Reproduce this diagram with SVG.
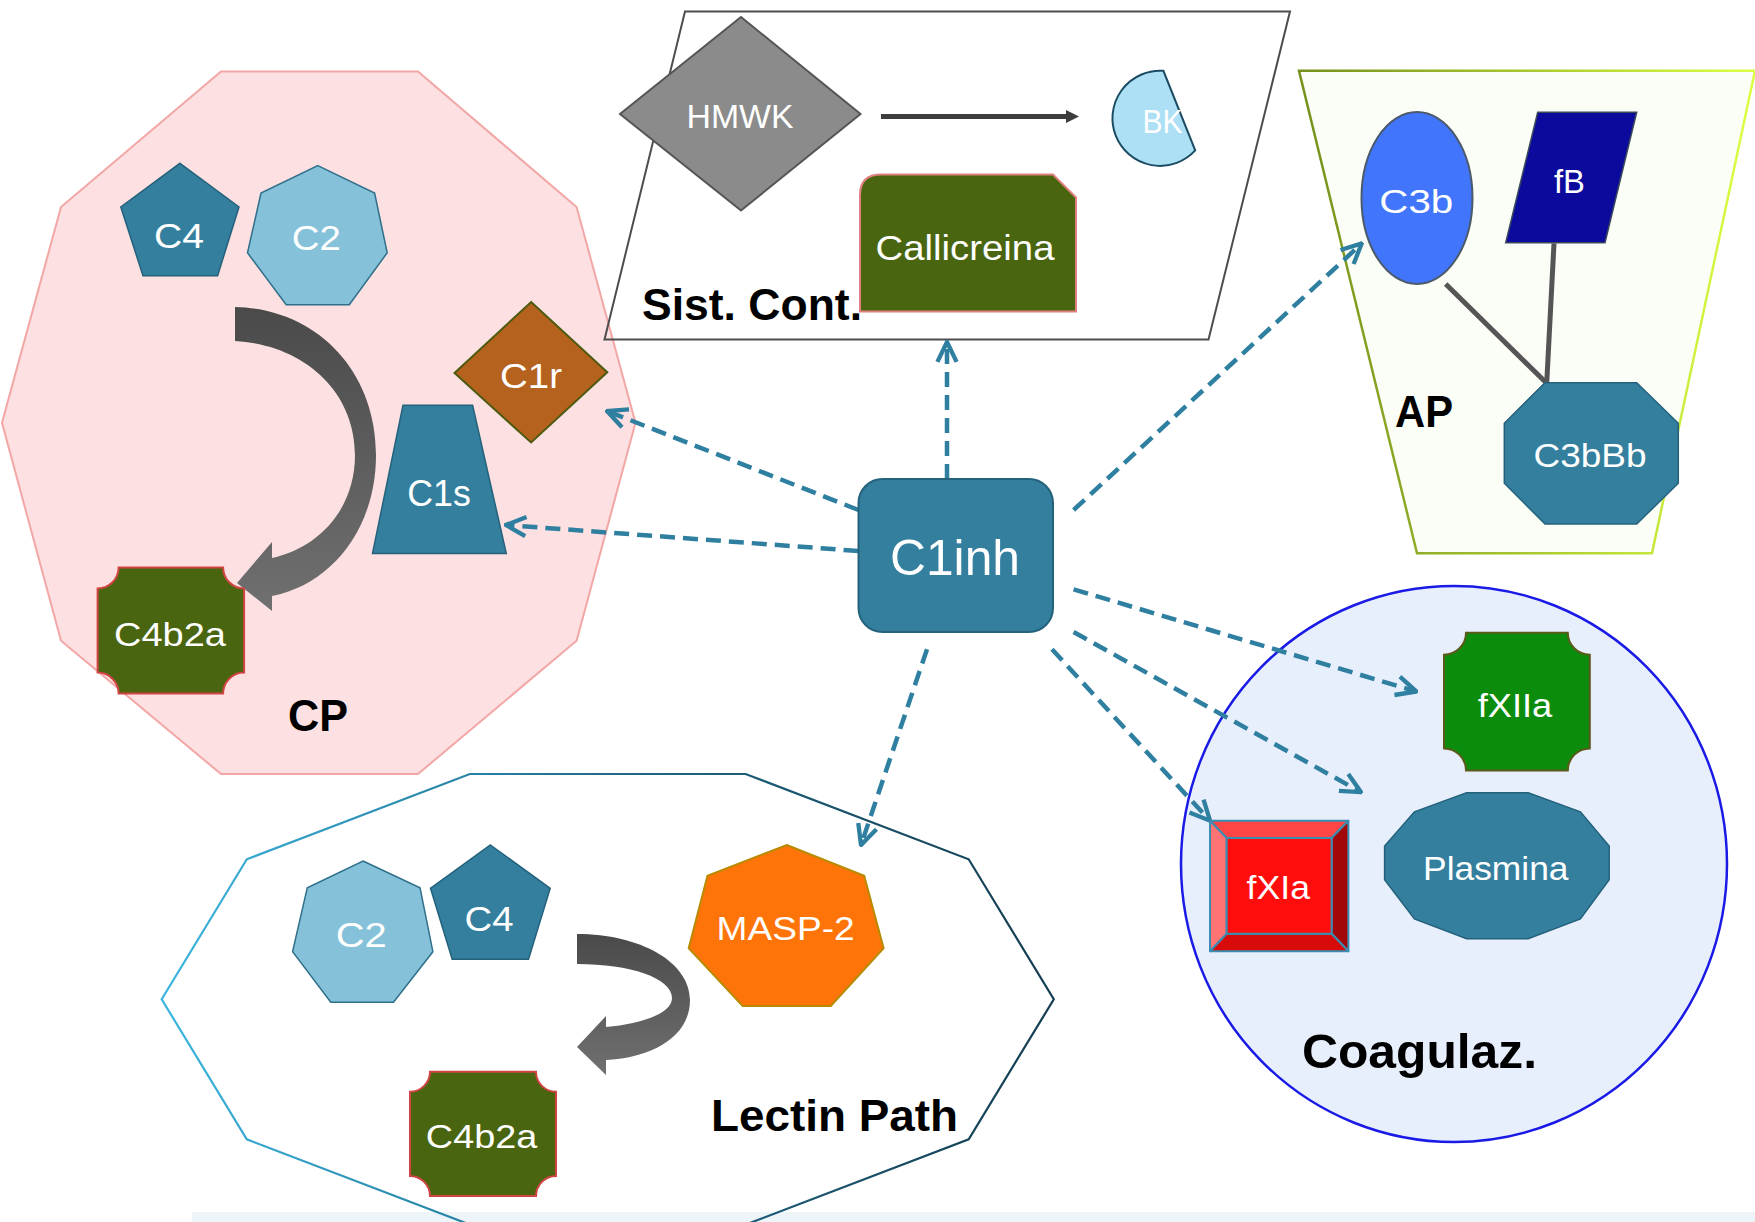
<svg xmlns="http://www.w3.org/2000/svg" width="1755" height="1222" viewBox="0 0 1755 1222">
<defs>
<style>
.lbl{font-family:"Liberation Sans",Arial,sans-serif;fill:#fff;text-anchor:middle;lengthAdjust:spacingAndGlyphs}
.ttl{font-family:"Liberation Sans",Arial,sans-serif;font-weight:bold;fill:#000}
.conn{fill:none;stroke:#2f7fa1;stroke-width:4.5;stroke-dasharray:15 8}
.teal{fill:#347f9e;stroke:#24627c;stroke-width:1.5}
.olive{fill:#4a650f;stroke:#d04444;stroke-width:2}
.link{stroke:#555;stroke-width:5;fill:none}
</style>
<marker id="chev" markerUnits="userSpaceOnUse" markerWidth="24" markerHeight="24" viewBox="0 0 10 10" refX="9.3" refY="5" orient="auto">
<path d="M1,1 L9.3,5 L1,9" fill="none" stroke="#2f7fa1" stroke-width="1.8"/>
</marker>
<linearGradient id="garr" x1="0" y1="0" x2="0" y2="1">
<stop offset="0" stop-color="#4a4a4a"/><stop offset="1" stop-color="#707070"/>
</linearGradient>
<linearGradient id="gap" gradientUnits="userSpaceOnUse" x1="1298" y1="0" x2="1755" y2="0">
<stop offset="0" stop-color="#73901a"/><stop offset="1" stop-color="#dcff44"/>
</linearGradient>
<linearGradient id="glec" gradientUnits="userSpaceOnUse" x1="160" y1="0" x2="1055" y2="0">
<stop offset="0" stop-color="#3cb6e0"/><stop offset="0.5" stop-color="#1f6a88"/><stop offset="1" stop-color="#143c50"/>
</linearGradient>
</defs>

<rect x="0" y="0" width="1755" height="1222" fill="#fff"/>
<rect x="192" y="1212" width="1563" height="10" fill="#edf5f9"/>

<!-- containers -->
<g id="cp-group">
<polygon points="221,71.5 418,71.5 576.6,207 635.5,422.7 576.6,640.8 418,774 221,774 61,640.8 2,422.7 61,207" fill="#fde0e1" stroke="#f2a6a6" stroke-width="2"/>
<text class="ttl" x="288" y="731" font-size="44" textLength="60" lengthAdjust="spacingAndGlyphs">CP</text>
</g>
<g id="sist-cont-group">
<polygon points="685,11.5 1290,11.5 1208.5,339.5 604.5,339.5" fill="none" stroke="#4d4d4d" stroke-width="2"/>
<text class="ttl" x="642" y="320" font-size="45" textLength="220" lengthAdjust="spacingAndGlyphs">Sist. Cont.</text>
</g>
<g id="ap-group">
<polygon points="1299,70.7 1755,70.7 1652,553.3 1417,553.3" fill="#fbfdf7" stroke="url(#gap)" stroke-width="2.5"/>
<text class="ttl" x="1395" y="427" font-size="44" textLength="58" lengthAdjust="spacingAndGlyphs">AP</text>
</g>
<g id="coag-group">
<ellipse cx="1454" cy="864" rx="273" ry="278" fill="#e8effc" stroke="#1a1ae6" stroke-width="2.5"/>
<text class="ttl" x="1302" y="1068" font-size="48" textLength="235" lengthAdjust="spacingAndGlyphs">Coagulaz.</text>
</g>
<g id="lectin-group">
<polygon points="469.8,774 745.6,774 968.7,859.3 1053.8,999.3 968.7,1139.3 745.6,1224.6 469.8,1224.6 246.8,1139.3 161.7,999.3 246.8,859.3" fill="none" stroke="url(#glec)" stroke-width="2.2"/>
<text class="ttl" x="711" y="1131" font-size="45" textLength="247" lengthAdjust="spacingAndGlyphs">Lectin Path</text>
</g>

<!-- connectors -->
<g id="connectors">
<line class="conn" x1="858.5" y1="510" x2="607" y2="411" marker-end="url(#chev)"/>
<line class="conn" x1="858.5" y1="551" x2="506" y2="525" marker-end="url(#chev)"/>
<line class="conn" x1="947" y1="479" x2="947" y2="342" marker-end="url(#chev)"/>
<line class="conn" x1="1073.6" y1="510" x2="1361.7" y2="243.5" marker-end="url(#chev)"/>
<line class="conn" x1="1073.6" y1="589.3" x2="1416.3" y2="691.5" marker-end="url(#chev)"/>
<line class="conn" x1="1073.6" y1="632" x2="1361" y2="792.2" marker-end="url(#chev)"/>
<line class="conn" x1="1052" y1="649.3" x2="1210" y2="820.7" marker-end="url(#chev)"/>
<line class="conn" x1="927" y1="649.3" x2="861" y2="845" marker-end="url(#chev)"/>
<g id="hmwk-bk-arrow">
<line x1="881" y1="116.5" x2="1068" y2="116.5" stroke="#3d3d3d" stroke-width="5"/>
<polygon points="1066,110 1079,116.5 1066,123" fill="#3d3d3d"/>
</g>
<path id="cp-curved-arrow" d="M235,307 C318,309 376,372 376,455 C376,530 330,585 272,596 L272,611 L237,583 L272,542 L272,558 C318,548 355,510 355,455 C355,392 305,345 235,341 Z" fill="url(#garr)"/>
<path id="lectin-curved-arrow" d="M577,934 C640,934 690,962 690,1000 C690,1038 650,1058 606,1060 L606,1075 L577,1047 L606,1016 L606,1027 C640,1024 672,1014 672,998 C672,978 630,964 577,964 Z" fill="url(#garr)"/>
<g id="ap-links">
<line class="link" x1="1445.7" y1="284" x2="1546.7" y2="383.3"/>
<line class="link" x1="1554" y1="243.3" x2="1546.7" y2="383.3"/>
</g>
</g>

<!-- nodes -->
<g id="cp-c4">
<polygon class="teal" points="180,163.3 239,207 217.6,275.8 143,275.8 120.8,207"/>
<text class="lbl" x="179" y="248" font-size="35" textLength="50" lengthAdjust="spacingAndGlyphs">C4</text>
</g>
<g id="cp-c2">
<polygon points="317.8,165.6 374.6,193.1 387.2,252.8 349.3,304.7 286.2,304.7 247.5,252.8 261,193.1" fill="#85c2da" stroke="#2f6f8a" stroke-width="1.5"/>
<text class="lbl" x="316.3" y="250" font-size="35" textLength="49" lengthAdjust="spacingAndGlyphs">C2</text>
</g>
<g id="cp-c1r">
<polygon points="531.1,302 607.3,372.2 531.1,442.5 454.5,373" fill="#b5621f" stroke="#4d5a10" stroke-width="2"/>
<text class="lbl" x="531" y="388" font-size="35" textLength="62" lengthAdjust="spacingAndGlyphs">C1r</text>
</g>
<g id="cp-c1s">
<polygon class="teal" points="403,405.3 472.6,405.3 506.3,553.6 372.5,553.6"/>
<text class="lbl" x="439" y="506" font-size="36" textLength="63.5" lengthAdjust="spacingAndGlyphs">C1s</text>
</g>
<g id="cp-c4b2a">
<path class="olive" d="M118.6,567.4 L223.1,567.4 A21,21 0 0 0 244.1,588.4 L244.1,672.6 A21,21 0 0 0 223.1,693.6 L118.6,693.6 A21,21 0 0 0 97.6,672.6 L97.6,588.4 A21,21 0 0 0 118.6,567.4 Z"/>
<text class="lbl" x="170" y="646" font-size="33" textLength="112" lengthAdjust="spacingAndGlyphs">C4b2a</text>
</g>
<g id="hmwk">
<polygon points="741,17 860.5,114 741,210.5 620,114" fill="#8b8b8b" stroke="#555" stroke-width="2"/>
<text class="lbl" x="740" y="128" font-size="34" textLength="107" lengthAdjust="spacingAndGlyphs">HMWK</text>
</g>
<g id="bk">
<path d="M1163.4,70.8 A47.6,47.6 0 1,0 1195.2,150.4 Z" fill="#ade0f4" stroke="#1c4c63" stroke-width="2"/>
<text class="lbl" x="1162.5" y="133" font-size="33" textLength="40" lengthAdjust="spacingAndGlyphs">BK</text>
</g>
<g id="callicreina">
<path d="M881,174.5 L1053,174.5 L1076,197.5 L1076,311.5 L860,311.5 L860,195 Q860,174.5 881,174.5 Z" fill="#4a650f" stroke="#e08080" stroke-width="2"/>
<text class="lbl" x="965" y="260" font-size="35" textLength="179" lengthAdjust="spacingAndGlyphs">Callicreina</text>
</g>
<g id="c1inh">
<rect x="858.5" y="479" width="194.5" height="153" rx="24" ry="24" fill="#347f9e" stroke="#24627c" stroke-width="2"/>
<text class="lbl" x="955" y="575" font-size="50" textLength="130" lengthAdjust="spacingAndGlyphs">C1inh</text>
</g>
<g id="c3b">
<ellipse cx="1417" cy="198" rx="55.5" ry="86" fill="#4175fc" stroke="#4a5a6a" stroke-width="2"/>
<text class="lbl" x="1416.3" y="213" font-size="33" textLength="74" lengthAdjust="spacingAndGlyphs">C3b</text>
</g>
<g id="fb">
<polygon points="1537.7,112.3 1636.7,112.3 1605,242.7 1505.7,242.7" fill="#0b0a9c" stroke="#3a4a5a" stroke-width="1.5"/>
<text class="lbl" x="1569.5" y="192.5" font-size="33" textLength="31" lengthAdjust="spacingAndGlyphs">fB</text>
</g>
<g id="c3bbb">
<polygon class="teal" points="1545,382.7 1636.7,382.7 1678.3,423.3 1678.3,483.3 1636.7,524 1545,524 1504.3,483.3 1504.3,423.3"/>
<text class="lbl" x="1590" y="467" font-size="34" textLength="113" lengthAdjust="spacingAndGlyphs">C3bBb</text>
</g>
<g id="fxiia">
<path d="M1466,632.7 L1567.8,632.7 A22,22 0 0 0 1589.8,654.7 L1589.8,748.4 A22,22 0 0 0 1567.8,770.4 L1466,770.4 A22,22 0 0 0 1444,748.4 L1444,654.7 A22,22 0 0 0 1466,632.7 Z" fill="#0c8c0c" stroke="#5a5a1a" stroke-width="2"/>
<text class="lbl" x="1515" y="717" font-size="34" textLength="74.6" lengthAdjust="spacingAndGlyphs">fXIIa</text>
</g>
<g id="plasmina">
<polygon class="teal" points="1466.6,792.8 1528.2,792.8 1580.4,811.8 1609.2,846.1 1609.2,879.7 1580.4,918.9 1528.2,938.7 1466.6,938.7 1414.4,918.9 1384.6,879.7 1384.6,846.1 1414.4,811.8"/>
<text class="lbl" x="1495.8" y="880" font-size="34" textLength="145.5" lengthAdjust="spacingAndGlyphs">Plasmina</text>
</g>
<g id="fxia" stroke="#3a8db0" stroke-width="2" stroke-linejoin="round">
<polygon points="1210,820.7 1348.4,820.7 1331.6,838 1226.7,838" fill="#ff4545"/>
<polygon points="1210,820.7 1226.7,838 1226.7,933.8 1210,951.3" fill="#ff7373"/>
<polygon points="1348.4,820.7 1348.4,951.3 1331.6,933.8 1331.6,838" fill="#a30808"/>
<polygon points="1210,951.3 1226.7,933.8 1331.6,933.8 1348.4,951.3" fill="#d90a0a"/>
<rect x="1226.7" y="838" width="104.9" height="95.8" fill="#ff0d0d"/>
<text class="lbl" x="1278.3" y="899" font-size="34" stroke="none" textLength="63.4" lengthAdjust="spacingAndGlyphs">fXIa</text>
</g>
<g id="lectin-c2">
<polygon points="363,861 420,887.7 432.9,951.7 393.5,1002.3 330.8,1002.3 292.6,951.7 307.3,887.7" fill="#85c2da" stroke="#2f6f8a" stroke-width="1.5"/>
<text class="lbl" x="361.3" y="946.7" font-size="35" textLength="51" lengthAdjust="spacingAndGlyphs">C2</text>
</g>
<g id="lectin-c4">
<polygon class="teal" points="490.4,845 550.2,888.3 528.5,959.3 452.2,959.3 430.5,888.3"/>
<text class="lbl" x="489" y="930.7" font-size="35" textLength="49" lengthAdjust="spacingAndGlyphs">C4</text>
</g>
<g id="masp-2">
<polygon points="786.7,845 864.2,875.7 883.6,948.3 830.8,1006 742.7,1006 688.7,948.3 707.5,875.7" fill="#ff7409" stroke="#b88a00" stroke-width="2"/>
<text class="lbl" x="785.6" y="940" font-size="33" textLength="138" lengthAdjust="spacingAndGlyphs">MASP-2</text>
</g>
<g id="lectin-c4b2a">
<path class="olive" d="M430,1071.7 L536,1071.7 A20,20 0 0 0 556,1091.7 L556,1176 A20,20 0 0 0 536,1196 L430,1196 A20,20 0 0 0 410,1176 L410,1091.7 A20,20 0 0 0 430,1071.7 Z"/>
<text class="lbl" x="481.6" y="1148" font-size="33" textLength="111.5" lengthAdjust="spacingAndGlyphs">C4b2a</text>
</g>
</svg>
